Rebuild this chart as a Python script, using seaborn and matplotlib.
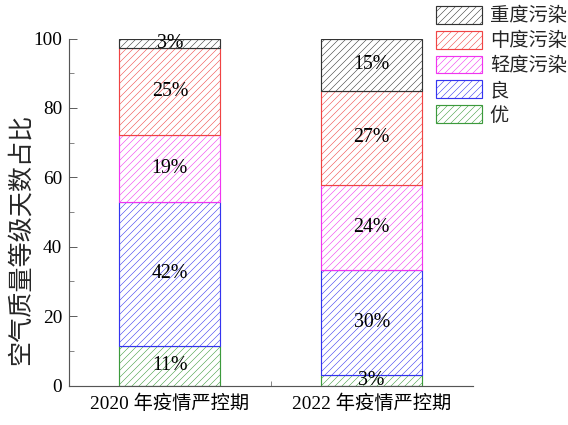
import matplotlib
matplotlib.use("Agg")
import matplotlib.pyplot as plt
import seaborn as sns
from matplotlib.ticker import MultipleLocator, FixedLocator

# Share of days per air-quality level (%), bottom to top of each stack
periods = ["2020 年疫情严控期", "2022 年疫情严控期"]
levels = ["优", "良", "轻度污染", "中度污染", "重度污染"]
share_2020 = [11.4, 41.6, 19.2, 25.0, 2.8]
share_2022 = [3.0, 30.4, 24.3, 27.3, 15.0]
level_colors = ["#3c9a3c", "#3434f0", "#f034f0", "#f04444", "#333333"]

sns.set_style("ticks")
plt.rcParams["font.family"] = ["Liberation Serif", "Noto Sans CJK SC"]
plt.rcParams["hatch.linewidth"] = 0.45

DPI = 84
fig = plt.figure(figsize=(568 / DPI, 425 / DPI), dpi=DPI)
ax = fig.add_axes([0.1215, 0.0929, 0.832 - 0.1215, 0.9094 - 0.0929])

bottom = [0.0, 0.0]
for i, level in enumerate(levels):
    vals = [share_2020[i], share_2022[i]]
    sns.barplot(x=periods, y=vals, bottom=bottom, color="white", saturation=1,
                edgecolor=level_colors[i], hatch="////", linewidth=1.0,
                width=0.5, errorbar=None, ax=ax, label=level)
    for j, (v, b) in enumerate(zip(vals, bottom)):
        ax.text(j, b + v / 2, f"{v:.0f}%", ha="center", va="center",
                fontsize=17, color="black")
    bottom = [b + v for b, v in zip(bottom, vals)]

ax.set_xlim(-0.5, 1.5)
ax.set_ylim(0, 100)
ax.yaxis.set_major_locator(MultipleLocator(20))
ax.yaxis.set_minor_locator(MultipleLocator(10))
ax.xaxis.set_minor_locator(FixedLocator([0.5]))
ax.tick_params(which="both", direction="in", color="#555555", labelcolor="black")
ax.tick_params(axis="y", which="major", length=7, pad=6, labelsize=16.5)
ax.tick_params(axis="y", which="minor", length=4)
ax.tick_params(axis="x", which="both", length=4, pad=8, labelsize=16.5)
ax.set_xlabel("")
ax.set_ylabel("空气质量等级天数占比", fontsize=21.5)
ax.yaxis.set_label_coords(-0.09, 0.42)

for side in ("top", "right"):
    ax.spines[side].set_visible(False)
for side in ("left", "bottom"):
    ax.spines[side].set_color("#555555")
    ax.spines[side].set_linewidth(1.0)

if ax.get_legend() is not None:
    ax.get_legend().remove()
handles = [c.patches[0] for c in ax.containers][::-1]
fig.legend(handles, levels[::-1], loc="upper right", bbox_to_anchor=(1.008, 1.0),
           frameon=False, fontsize=16.5, handlelength=2.4, handleheight=1.05,
           labelspacing=0.28, handletextpad=0.4, borderpad=0.3, borderaxespad=0)

fig.savefig("out.png", dpi=DPI)
